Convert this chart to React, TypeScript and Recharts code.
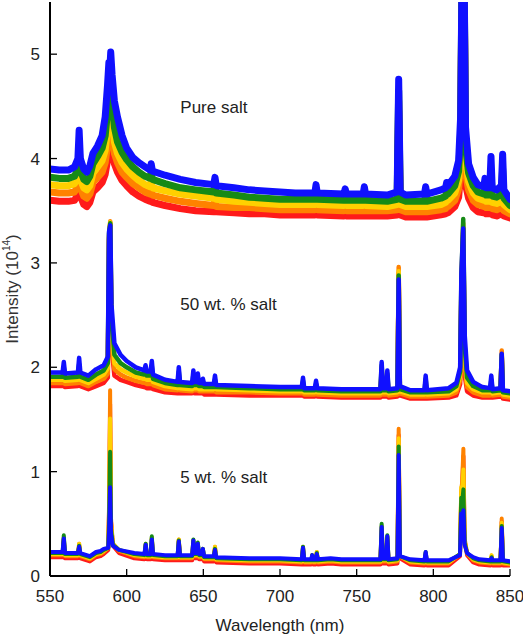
import React from 'react';
import { LineChart, Line, XAxis, YAxis, ReferenceDot } from 'recharts';

const FONT = '"Liberation Sans", Arial, Helvetica, sans-serif';

const wavelengthTicks = [550, 600, 650, 700, 750, 800, 850];
const intensityTicks = [0, 1, 2, 3, 4, 5];

// each row: wavelength (nm), then intensity of the blue, green, yellow, orange, red traces
const traceColors = ['#1010ff', '#168a16', '#ffd000', '#ff8200', '#ff1a1a'];

const pureSalt = [
  [550, 3.90, 3.82, 3.75, 3.68, 3.60],
  [556, 3.89, 3.81, 3.74, 3.67, 3.59],
  [562, 3.89, 3.81, 3.74, 3.67, 3.59],
  [566, 3.92, 3.83, 3.76, 3.68, 3.60],
  [568.2, 4.00, 3.90, 3.82, 3.74, 3.66],
  [569, 4.27, 4.12, 4.02, 3.94, 3.86],
  [569.8, 4.00, 3.89, 3.80, 3.72, 3.64],
  [572, 3.90, 3.80, 3.72, 3.64, 3.56],
  [574, 3.87, 3.78, 3.70, 3.62, 3.54],
  [576, 3.93, 3.83, 3.74, 3.66, 3.58],
  [578, 4.05, 3.95, 3.86, 3.77, 3.68],
  [581, 4.12, 4.02, 3.92, 3.82, 3.72],
  [584, 4.22, 4.10, 3.98, 3.87, 3.77],
  [586, 4.40, 4.22, 4.08, 3.96, 3.85],
  [587.5, 4.70, 4.45, 4.28, 4.12, 3.98],
  [588.4, 4.92, 4.75, 4.60, 4.45, 4.30],
  [589, 4.85, 4.80, 4.72, 4.62, 4.50],
  [589.6, 5.02, 4.90, 4.75, 4.60, 4.45],
  [590.5, 4.80, 4.55, 4.40, 4.25, 4.10],
  [592, 4.55, 4.30, 4.16, 4.05, 3.95],
  [594, 4.40, 4.16, 4.05, 3.96, 3.87],
  [597, 4.22, 4.06, 3.96, 3.87, 3.79],
  [600, 4.10, 3.99, 3.90, 3.82, 3.74],
  [604, 4.01, 3.92, 3.84, 3.76, 3.68],
  [608, 3.96, 3.87, 3.79, 3.72, 3.64],
  [612, 3.92, 3.83, 3.75, 3.68, 3.61],
  [615.2, 3.89, 3.81, 3.73, 3.66, 3.59],
  [616, 3.95, 3.87, 3.79, 3.72, 3.65],
  [616.8, 3.88, 3.80, 3.72, 3.65, 3.58],
  [625, 3.84, 3.76, 3.69, 3.62, 3.55],
  [635, 3.80, 3.72, 3.66, 3.59, 3.52],
  [645, 3.77, 3.70, 3.64, 3.57, 3.50],
  [656.8, 3.75, 3.68, 3.62, 3.55, 3.49],
  [657.6, 3.82, 3.75, 3.68, 3.61, 3.55],
  [658.4, 3.74, 3.67, 3.61, 3.54, 3.49],
  [670, 3.72, 3.65, 3.59, 3.53, 3.48],
  [680, 3.70, 3.63, 3.58, 3.53, 3.47],
  [690, 3.69, 3.62, 3.57, 3.52, 3.47],
  [700, 3.68, 3.61, 3.56, 3.51, 3.46],
  [710, 3.67, 3.61, 3.56, 3.51, 3.46],
  [722.7, 3.67, 3.61, 3.56, 3.51, 3.46],
  [723.5, 3.75, 3.68, 3.62, 3.57, 3.52],
  [724.3, 3.67, 3.61, 3.56, 3.51, 3.46],
  [741.7, 3.66, 3.60, 3.55, 3.50, 3.45],
  [742.5, 3.71, 3.64, 3.59, 3.54, 3.49],
  [743.3, 3.66, 3.60, 3.55, 3.50, 3.45],
  [754.2, 3.66, 3.60, 3.55, 3.50, 3.45],
  [755, 3.73, 3.66, 3.60, 3.55, 3.50],
  [755.8, 3.66, 3.60, 3.55, 3.50, 3.45],
  [770, 3.65, 3.59, 3.54, 3.50, 3.45],
  [776.4, 3.68, 3.61, 3.56, 3.51, 3.46],
  [777.4, 4.76, 4.65, 4.55, 4.45, 4.35],
  [778.4, 3.68, 3.61, 3.56, 3.51, 3.46],
  [782, 3.65, 3.59, 3.54, 3.49, 3.44],
  [794.2, 3.66, 3.59, 3.54, 3.49, 3.44],
  [795, 3.73, 3.66, 3.60, 3.55, 3.50],
  [795.8, 3.66, 3.59, 3.54, 3.49, 3.44],
  [805, 3.70, 3.62, 3.56, 3.51, 3.46],
  [808, 3.72, 3.64, 3.58, 3.52, 3.47],
  [808.7, 3.77, 3.69, 3.62, 3.56, 3.50],
  [809.5, 3.74, 3.66, 3.60, 3.54, 3.48],
  [814, 3.83, 3.74, 3.67, 3.60, 3.54],
  [816.5, 3.98, 3.88, 3.79, 3.71, 3.63],
  [817.8, 4.40, 4.25, 4.10, 3.98, 3.85],
  [818.8, 5.90, 5.90, 5.90, 5.90, 5.90],
  [820, 5.90, 5.90, 5.90, 5.90, 5.90],
  [821, 4.30, 4.12, 3.98, 3.86, 3.75],
  [823, 3.95, 3.86, 3.78, 3.70, 3.62],
  [826, 3.82, 3.74, 3.67, 3.60, 3.53],
  [829, 3.75, 3.68, 3.62, 3.56, 3.49],
  [832.9, 3.73, 3.66, 3.60, 3.54, 3.48],
  [833.7, 3.81, 3.72, 3.65, 3.58, 3.52],
  [834.5, 3.72, 3.65, 3.59, 3.53, 3.47],
  [836.8, 3.72, 3.65, 3.59, 3.53, 3.47],
  [837.6, 4.02, 3.88, 3.78, 3.68, 3.58],
  [838.4, 3.72, 3.64, 3.58, 3.52, 3.46],
  [841.3, 3.70, 3.63, 3.57, 3.51, 3.45],
  [844.4, 3.74, 3.66, 3.59, 3.53, 3.47],
  [845.2, 4.04, 3.90, 3.80, 3.70, 3.60],
  [846, 3.70, 3.62, 3.56, 3.50, 3.45],
  [850, 3.61, 3.55, 3.51, 3.47, 3.43],
];

const halfSalt = [
  [550, 1.95, 1.91, 1.88, 1.85, 1.82],
  [558.2, 1.95, 1.91, 1.88, 1.85, 1.82],
  [559, 2.05, 2.00, 1.96, 1.92, 1.88],
  [559.8, 1.94, 1.90, 1.87, 1.84, 1.81],
  [568.2, 1.95, 1.91, 1.88, 1.85, 1.82],
  [569, 2.09, 2.03, 1.98, 1.94, 1.90],
  [569.8, 1.95, 1.91, 1.88, 1.85, 1.82],
  [575, 1.92, 1.88, 1.85, 1.82, 1.79],
  [580, 1.98, 1.93, 1.89, 1.86, 1.82],
  [585, 2.02, 1.97, 1.93, 1.89, 1.85],
  [587.7, 2.10, 2.04, 1.99, 1.94, 1.90],
  [588.5, 3.30, 3.28, 3.26, 3.24, 3.22],
  [589.3, 3.36, 3.38, 3.39, 3.40, 3.37],
  [590.1, 2.60, 2.50, 2.40, 2.30, 2.20],
  [592, 2.23, 2.12, 2.04, 1.98, 1.92],
  [596, 2.12, 2.04, 1.98, 1.93, 1.88],
  [600, 2.06, 2.00, 1.95, 1.90, 1.86],
  [606, 2.00, 1.95, 1.91, 1.87, 1.83],
  [611.5, 1.97, 1.93, 1.89, 1.85, 1.81],
  [612.3, 2.02, 1.97, 1.93, 1.89, 1.85],
  [613.1, 1.96, 1.92, 1.88, 1.84, 1.80],
  [615.6, 1.96, 1.92, 1.88, 1.84, 1.80],
  [616.4, 2.06, 2.01, 1.96, 1.91, 1.87],
  [617.2, 1.93, 1.89, 1.86, 1.83, 1.79],
  [625, 1.88, 1.85, 1.82, 1.79, 1.76],
  [633.2, 1.86, 1.83, 1.80, 1.78, 1.75],
  [634, 2.00, 1.96, 1.92, 1.88, 1.84],
  [634.8, 1.86, 1.83, 1.80, 1.78, 1.75],
  [642.7, 1.85, 1.82, 1.79, 1.77, 1.75],
  [643.5, 1.97, 1.93, 1.89, 1.85, 1.81],
  [644.3, 1.86, 1.83, 1.80, 1.78, 1.75],
  [645.6, 1.86, 1.83, 1.80, 1.78, 1.75],
  [646.4, 1.94, 1.90, 1.86, 1.83, 1.80],
  [647.2, 1.85, 1.82, 1.79, 1.77, 1.75],
  [648.9, 1.85, 1.82, 1.79, 1.77, 1.75],
  [649.7, 1.89, 1.86, 1.83, 1.80, 1.77],
  [650.5, 1.84, 1.81, 1.79, 1.77, 1.74],
  [656.8, 1.84, 1.81, 1.79, 1.77, 1.74],
  [657.6, 1.92, 1.88, 1.85, 1.82, 1.79],
  [658.4, 1.83, 1.81, 1.79, 1.76, 1.74],
  [680, 1.82, 1.80, 1.78, 1.76, 1.73],
  [700, 1.81, 1.79, 1.77, 1.75, 1.73],
  [714.2, 1.81, 1.79, 1.77, 1.75, 1.73],
  [715, 1.90, 1.87, 1.84, 1.81, 1.78],
  [715.8, 1.80, 1.78, 1.76, 1.74, 1.72],
  [722.7, 1.80, 1.78, 1.76, 1.74, 1.72],
  [723.5, 1.87, 1.84, 1.82, 1.79, 1.77],
  [724.3, 1.80, 1.78, 1.76, 1.74, 1.72],
  [740, 1.79, 1.77, 1.75, 1.73, 1.71],
  [765.5, 1.79, 1.77, 1.75, 1.73, 1.71],
  [766.3, 2.05, 2.02, 2.00, 1.97, 1.94],
  [767.1, 1.80, 1.78, 1.76, 1.74, 1.72],
  [769.2, 1.80, 1.78, 1.76, 1.74, 1.72],
  [770, 1.97, 1.94, 1.92, 1.90, 1.87],
  [770.8, 1.79, 1.77, 1.75, 1.73, 1.71],
  [776.6, 1.80, 1.78, 1.76, 1.74, 1.72],
  [777.4, 2.84, 2.88, 2.92, 2.96, 2.90],
  [778.2, 1.82, 1.79, 1.77, 1.75, 1.73],
  [785, 1.78, 1.76, 1.74, 1.72, 1.70],
  [794.2, 1.78, 1.76, 1.74, 1.72, 1.70],
  [795, 1.92, 1.89, 1.86, 1.83, 1.80],
  [795.8, 1.78, 1.76, 1.74, 1.72, 1.70],
  [810, 1.80, 1.77, 1.75, 1.73, 1.71],
  [815, 1.85, 1.82, 1.79, 1.76, 1.73],
  [817.5, 2.00, 1.96, 1.92, 1.88, 1.84],
  [818.3, 2.90, 2.85, 2.80, 2.75, 2.70],
  [819.5, 3.33, 3.42, 3.38, 3.34, 3.30],
  [820.5, 2.30, 2.20, 2.10, 2.00, 1.92],
  [822, 1.97, 1.90, 1.85, 1.81, 1.77],
  [826, 1.86, 1.82, 1.79, 1.76, 1.73],
  [832, 1.81, 1.78, 1.76, 1.73, 1.71],
  [837, 1.80, 1.78, 1.76, 1.73, 1.71],
  [837.8, 1.92, 1.88, 1.85, 1.82, 1.79],
  [838.6, 1.79, 1.77, 1.75, 1.73, 1.71],
  [843.8, 1.80, 1.78, 1.76, 1.74, 1.72],
  [844.6, 2.13, 2.12, 2.12, 2.16, 2.10],
  [845.4, 1.78, 1.76, 1.74, 1.72, 1.70],
  [850, 1.77, 1.75, 1.73, 1.71, 1.69],
];

const lowSalt = [
  [550, 0.23, 0.22, 0.21, 0.20, 0.18],
  [558.2, 0.23, 0.22, 0.21, 0.20, 0.18],
  [559, 0.36, 0.39, 0.37, 0.35, 0.33],
  [559.8, 0.22, 0.21, 0.20, 0.19, 0.17],
  [568.2, 0.22, 0.21, 0.20, 0.19, 0.17],
  [569, 0.28, 0.29, 0.31, 0.31, 0.29],
  [569.8, 0.22, 0.21, 0.20, 0.19, 0.17],
  [576, 0.19, 0.18, 0.17, 0.16, 0.14],
  [580, 0.23, 0.22, 0.21, 0.20, 0.18],
  [583, 0.24, 0.23, 0.22, 0.21, 0.19],
  [585, 0.26, 0.25, 0.24, 0.23, 0.21],
  [588, 0.27, 0.27, 0.27, 0.27, 0.25],
  [588.6, 0.45, 0.55, 0.65, 0.75, 0.70],
  [589.2, 0.85, 1.19, 1.51, 1.78, 1.65],
  [589.8, 0.40, 0.45, 0.50, 0.55, 0.52],
  [591, 0.29, 0.30, 0.31, 0.31, 0.29],
  [595, 0.25, 0.25, 0.25, 0.24, 0.22],
  [605, 0.22, 0.21, 0.20, 0.19, 0.17],
  [611.6, 0.21, 0.20, 0.19, 0.18, 0.16],
  [612.4, 0.30, 0.31, 0.31, 0.30, 0.28],
  [613.2, 0.21, 0.20, 0.19, 0.18, 0.16],
  [615.6, 0.21, 0.20, 0.19, 0.18, 0.16],
  [616.4, 0.35, 0.38, 0.37, 0.36, 0.34],
  [617.2, 0.21, 0.20, 0.19, 0.18, 0.16],
  [625, 0.20, 0.19, 0.18, 0.17, 0.15],
  [633.2, 0.20, 0.19, 0.18, 0.17, 0.15],
  [634, 0.33, 0.34, 0.35, 0.35, 0.33],
  [634.8, 0.20, 0.19, 0.18, 0.17, 0.15],
  [642.7, 0.20, 0.19, 0.18, 0.17, 0.15],
  [643.5, 0.34, 0.35, 0.34, 0.33, 0.31],
  [644.3, 0.22, 0.21, 0.20, 0.19, 0.17],
  [645.6, 0.22, 0.21, 0.20, 0.19, 0.17],
  [646.4, 0.31, 0.32, 0.31, 0.30, 0.28],
  [647.2, 0.21, 0.20, 0.19, 0.18, 0.16],
  [648.9, 0.21, 0.20, 0.19, 0.18, 0.16],
  [649.7, 0.26, 0.26, 0.26, 0.25, 0.23],
  [650.5, 0.19, 0.18, 0.17, 0.16, 0.14],
  [656.8, 0.19, 0.18, 0.17, 0.16, 0.14],
  [657.6, 0.25, 0.26, 0.28, 0.28, 0.26],
  [658.4, 0.18, 0.17, 0.16, 0.15, 0.13],
  [680, 0.17, 0.16, 0.15, 0.14, 0.12],
  [700, 0.17, 0.16, 0.15, 0.14, 0.12],
  [714.2, 0.16, 0.15, 0.14, 0.13, 0.11],
  [715, 0.27, 0.28, 0.28, 0.27, 0.25],
  [715.8, 0.16, 0.15, 0.14, 0.13, 0.11],
  [720.4, 0.16, 0.15, 0.14, 0.13, 0.11],
  [721, 0.20, 0.20, 0.20, 0.19, 0.17],
  [721.6, 0.16, 0.15, 0.14, 0.13, 0.11],
  [723.3, 0.16, 0.15, 0.14, 0.13, 0.11],
  [724, 0.21, 0.22, 0.23, 0.23, 0.21],
  [724.7, 0.16, 0.15, 0.14, 0.13, 0.11],
  [733, 0.17, 0.16, 0.15, 0.14, 0.12],
  [740, 0.16, 0.15, 0.14, 0.13, 0.11],
  [765.5, 0.16, 0.15, 0.14, 0.13, 0.11],
  [766.3, 0.47, 0.50, 0.48, 0.46, 0.44],
  [767.1, 0.17, 0.16, 0.15, 0.14, 0.12],
  [769.2, 0.17, 0.16, 0.15, 0.14, 0.12],
  [770, 0.38, 0.39, 0.38, 0.37, 0.35],
  [770.8, 0.16, 0.15, 0.14, 0.13, 0.11],
  [776.6, 0.17, 0.16, 0.15, 0.14, 0.12],
  [777.4, 1.16, 1.24, 1.32, 1.41, 1.35],
  [778.2, 0.19, 0.19, 0.19, 0.19, 0.17],
  [785, 0.16, 0.15, 0.14, 0.13, 0.11],
  [794.2, 0.15, 0.14, 0.13, 0.12, 0.10],
  [795, 0.23, 0.23, 0.22, 0.21, 0.19],
  [795.8, 0.15, 0.14, 0.13, 0.12, 0.10],
  [810, 0.15, 0.14, 0.13, 0.12, 0.10],
  [817.4, 0.20, 0.21, 0.21, 0.21, 0.19],
  [818.2, 0.60, 0.75, 0.85, 0.82, 0.78],
  [818.8, 0.55, 0.70, 0.80, 0.90, 0.85],
  [819.6, 0.63, 0.83, 1.02, 1.22, 1.15],
  [820.4, 0.30, 0.32, 0.34, 0.36, 0.34],
  [822, 0.22, 0.22, 0.22, 0.22, 0.20],
  [826, 0.18, 0.17, 0.16, 0.15, 0.13],
  [830, 0.16, 0.15, 0.14, 0.13, 0.11],
  [837.3, 0.15, 0.14, 0.13, 0.12, 0.10],
  [838, 0.17, 0.18, 0.20, 0.19, 0.17],
  [838.7, 0.15, 0.14, 0.13, 0.12, 0.10],
  [843.8, 0.15, 0.14, 0.13, 0.12, 0.10],
  [844.6, 0.46, 0.48, 0.51, 0.55, 0.52],
  [845.4, 0.15, 0.14, 0.13, 0.12, 0.10],
  [850, 0.14, 0.13, 0.12, 0.11, 0.10],
];

const toSeries = (rows: number[][], col: number) => rows.map((r) => ({ x: r[0], y: r[col] }));

const LeftTick = ({ x, y, payload }: any) => (
  <g>
    <line x1={x} y1={y} x2={x + 7} y2={y} stroke="#000" strokeWidth={1.3} />
    <text x={x - 10} y={y + 6} textAnchor="end" fontSize={17} fontFamily={FONT} fill="#222">
      {payload.value}
    </text>
  </g>
);

const RightTick = ({ x, y }: any) => <line x1={x} y1={y} x2={x - 7} y2={y} stroke="#000" strokeWidth={1.3} />;

const BottomTick = ({ x, y, payload }: any) => (
  <g>
    <line x1={x} y1={y} x2={x} y2={y - 7} stroke="#000" strokeWidth={1.3} />
    <text x={x} y={y + 26} textAnchor="middle" fontSize={17} fontFamily={FONT} fill="#222">
      {payload.value}
    </text>
  </g>
);

const TopTick = ({ x, y }: any) => <line x1={x} y1={y} x2={x} y2={y + 7} stroke="#000" strokeWidth={1.3} />;

const XTitle = ({ viewBox }: any) => (
  <text x={viewBox.x + viewBox.width / 2} y={viewBox.y + 55} textAnchor="middle" fontSize={17} fontFamily={FONT} fill="#222">
    Wavelength (nm)
  </text>
);

const YTitle = ({ viewBox }: any) => {
  const cx = 12;
  const cy = viewBox.y + viewBox.height / 2;
  return (
    <text x={cx} y={cy} transform={`rotate(-90, ${cx}, ${cy})`} textAnchor="middle" dominantBaseline="central" fontSize={17} fontFamily={FONT} fill="#333">
      Intensity (10
      <tspan dy={-6} fontSize={10}>14</tspan>
      <tspan dy={6}>)</tspan>
    </text>
  );
};

const groups = [
  { key: 'pure', rows: pureSalt, width: 7 },
  { key: 'half', rows: halfSalt, width: 4.5 },
  { key: 'low', rows: lowSalt, width: 4 },
];

const labelStyle = { position: 'right' as const, offset: 0, fontSize: 17, fill: '#222', fontFamily: FONT };

export default function App() {
  return (
    <div style={{ position: 'absolute', left: 0, top: 0, width: 523, height: 637, background: '#fff' }}>
      <LineChart width={523} height={637} margin={{ top: 2, right: 13, left: 0, bottom: 0 }}>
        <XAxis
          xAxisId="bottom"
          type="number"
          dataKey="x"
          domain={[550, 850]}
          ticks={wavelengthTicks}
          allowDataOverflow
          height={61}
          tickSize={0}
          tickMargin={0}
          tick={<BottomTick />}
          axisLine={{ stroke: '#000', strokeWidth: 2 }}
          label={<XTitle />}
        />
        <XAxis
          xAxisId="top"
          orientation="top"
          type="number"
          dataKey="x"
          domain={[550, 850]}
          ticks={wavelengthTicks}
          allowDataOverflow
          height={0}
          tickSize={0}
          tickMargin={0}
          tick={<TopTick />}
          axisLine={{ stroke: '#000', strokeWidth: 2 }}
        />
        <YAxis
          yAxisId="left"
          type="number"
          domain={[0, 5.5]}
          ticks={intensityTicks}
          allowDataOverflow
          width={50}
          tickSize={0}
          tickMargin={0}
          tick={<LeftTick />}
          axisLine={{ stroke: '#000', strokeWidth: 2 }}
          label={<YTitle />}
        />
        <YAxis
          yAxisId="right"
          orientation="right"
          type="number"
          domain={[0, 5.5]}
          ticks={intensityTicks}
          allowDataOverflow
          width={0}
          tickSize={0}
          tickMargin={0}
          tick={<RightTick />}
          axisLine={{ stroke: '#000', strokeWidth: 2 }}
        />
        {groups.map((g) =>
          [5, 4, 3, 2, 1].map((col) => (
            <Line
              key={`${g.key}-${col}`}
              xAxisId="bottom"
              yAxisId="left"
              data={toSeries(g.rows, col)}
              dataKey="y"
              type="linear"
              stroke={traceColors[col - 1]}
              strokeWidth={g.width}
              strokeLinejoin="round"
              strokeLinecap="round"
              dot={false}
              activeDot={false}
              isAnimationActive={false}
            />
          ))
        )}
        <ReferenceDot xAxisId="bottom" yAxisId="left" x={635} y={4.49} r={0} label={{ ...labelStyle, value: 'Pure salt' }} />
        <ReferenceDot xAxisId="bottom" yAxisId="left" x={635} y={2.61} r={0} label={{ ...labelStyle, value: '50 wt. % salt' }} />
        <ReferenceDot xAxisId="bottom" yAxisId="left" x={635} y={0.95} r={0} label={{ ...labelStyle, value: '5 wt. % salt' }} />
      </LineChart>
    </div>
  );
}
